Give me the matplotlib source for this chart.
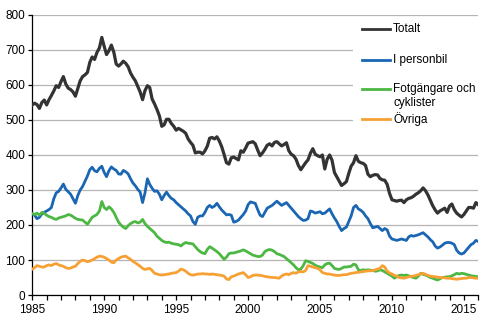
import numpy as np
import pandas as pd
import matplotlib
matplotlib.use("Agg")
import matplotlib.pyplot as plt
import matplotlib.dates as mdates
from matplotlib.lines import Line2D
from matplotlib.patches import Rectangle
from matplotlib.ticker import FuncFormatter, MultipleLocator

plt.rcParams['font.family'] = ['Liberation Sans', 'DejaVu Sans']

labels = ["Totalt", "I personbil", "Fotgängare och\ncyklister", "Övriga"]
colors = ["#333333", "#1a66b3", "#4cb843", "#f7a033"]

# bimonthly values, Jan 1985 .. Jan 2016
totalt = [
    543, 548, 544, 533, 550, 557, 543, 558, 570, 583,
    598, 593, 610, 624, 603, 591, 587, 580, 568, 590,
    612, 624, 629, 636, 665, 680, 673, 693, 706, 736,
    710, 687, 698, 714, 694, 660, 654, 660, 668, 662,
    652, 634, 622, 612, 596, 580, 558, 584, 598, 593,
    560, 546, 530, 512, 482, 486, 502, 502, 490, 482,
    471, 476, 472, 468, 462, 446, 436, 428, 406, 408,
    408, 403, 412, 425, 448, 450, 446, 452, 440, 424,
    402, 378, 374, 392, 394, 390, 386, 412, 408, 420,
    434, 436, 438, 432, 414, 398, 406, 416, 428, 432,
    426, 436, 438, 432, 426, 430, 435, 412, 402, 398,
    388, 370, 358, 368, 378, 386, 405, 418, 402, 398,
    395, 400, 360, 388, 400, 385, 350, 338, 326, 313,
    318, 324, 348, 368, 378, 398, 382, 378, 376, 370,
    345, 338, 342, 344, 343, 333, 329, 328, 316, 290,
    272, 270, 268, 270, 271, 264, 272, 276, 278, 282,
    288, 292, 298, 306, 298, 286, 270, 255, 243, 234,
    240, 244, 248, 236, 254, 260, 244, 234, 228, 223,
    230, 240, 250, 250, 248, 264, 258]

personbil = [
    233, 228, 218, 222, 232, 236, 240, 244, 250, 275,
    292, 296, 306, 317, 302, 295, 288, 275, 262, 284,
    300, 310, 325, 340, 358, 365, 355, 352, 362, 368,
    350, 338, 355, 366, 360, 356, 346, 345, 356, 352,
    346, 332, 320, 312, 302, 294, 264, 292, 332, 316,
    305, 296, 298, 288, 272, 284, 294, 284, 276, 272,
    264, 258, 252, 246, 240, 232, 226, 210, 202, 222,
    226, 226, 236, 250, 256, 250, 254, 262, 252, 243,
    236, 229, 230, 228, 208, 210, 214, 222, 230, 240,
    258, 266, 264, 262, 244, 228, 224, 236, 248, 252,
    256, 262, 268, 262, 256, 260, 264, 256, 248, 240,
    232, 224, 218, 213, 214, 218, 240, 238, 234, 236,
    238, 232, 234, 240, 246, 232, 220, 210, 196, 184,
    190, 194, 210, 226, 250, 256, 246, 242, 236, 226,
    218, 204, 192, 194, 196, 190, 184, 190, 186, 168,
    160, 158, 156, 158, 160, 158, 156, 166, 170, 168,
    170, 172, 175, 178, 172, 166, 158, 152, 140, 134,
    137, 142, 148, 150, 150, 148, 144, 128, 120, 117,
    120, 128, 136, 144, 148, 156, 153]

fotgangare = [
    232, 230, 234, 228, 236, 233, 228, 224, 222, 218,
    216, 220, 222, 224, 226, 230, 228, 224, 219, 216,
    215, 214, 208, 202, 212, 222, 226, 230, 240, 267,
    250, 244, 252, 246, 236, 222, 208, 200, 194, 190,
    198, 204, 208, 210, 206, 208, 216, 204, 196, 190,
    184, 178, 168, 162, 156, 152, 150, 151, 148, 146,
    145, 144, 140, 146, 150, 148, 147, 146, 138, 130,
    124, 120, 118, 130, 138, 134, 129, 124, 118, 110,
    102, 108, 118, 120, 120, 122, 124, 126, 129, 126,
    122, 118, 114, 112, 110, 110, 114, 124, 128, 130,
    128, 124, 118, 116, 113, 110, 104, 98, 92, 86,
    78, 72, 74, 84, 98, 96, 93, 90, 85, 82,
    80, 78, 86, 90, 91, 84, 76, 74, 73, 76,
    80, 80, 81, 82, 88, 86, 72, 70, 72, 71,
    72, 71, 70, 68, 69, 72, 70, 66, 62, 58,
    54, 48, 52, 56, 57, 56, 57, 55, 52, 50,
    48, 54, 62, 59, 57, 54, 50, 48, 45, 43,
    46, 50, 51, 52, 52, 55, 58, 62, 60, 62,
    61, 59, 57, 55, 54, 53, 52]

ovriga = [
    74, 78, 84, 82, 80, 80, 84, 86, 84, 88,
    90, 86, 84, 82, 78, 76, 77, 80, 82, 90,
    96, 100, 98, 95, 97, 100, 104, 108, 111, 110,
    108, 104, 100, 94, 92, 100, 104, 108, 110, 111,
    106, 102, 96, 92, 87, 82, 76, 73, 75, 76,
    70, 62, 60, 58, 57, 58, 59, 60, 62, 63,
    64, 68, 74, 72, 68, 62, 58, 57, 58, 60,
    60, 61, 60, 60, 59, 60, 59, 58, 57, 56,
    54, 46, 44, 52, 54, 57, 60, 62, 64, 58,
    50, 52, 56, 57, 57, 56, 55, 53, 52, 51,
    50, 50, 49, 48, 54, 58, 60, 58, 62, 64,
    62, 66, 67, 66, 70, 84, 82, 80, 78, 76,
    72, 64, 62, 60, 60, 58, 57, 56, 56, 57,
    58, 58, 60, 62, 63, 64, 65, 66, 67, 68,
    69, 69, 70, 72, 74, 76, 84, 80, 68, 63,
    60, 56, 54, 50, 49, 48, 50, 52, 53, 54,
    56, 58, 60, 62, 59, 56, 54, 53, 52, 51,
    50, 50, 49, 48, 48, 47, 46, 45, 46, 47,
    48, 48, 50, 50, 49, 48, 48]

series = [totalt, personbil, fotgangare, ovriga]
widths = [2.3, 2.0, 2.0, 2.0]

fig = plt.figure(figsize=(4.99, 3.28), dpi=100)
ax = fig.add_axes([0.0647, 0.1006, 0.8938, 0.8537])

for s, c, w in zip(series, colors, widths):
    dates = pd.date_range("1985-01-01", periods=len(s), freq="2MS")
    ax.plot(dates, s, color=c, lw=w, zorder=3, solid_joinstyle="round")

ax.set_xlim(pd.Timestamp("1985-01-01"), pd.Timestamp("2016-01-01"))
ax.set_ylim(0, 800)
ax.yaxis.set_major_locator(MultipleLocator(100))
ax.xaxis.set_major_locator(mdates.YearLocator(1))
ax.xaxis.set_major_formatter(FuncFormatter(
    lambda x, p: str(mdates.num2date(x).year) if mdates.num2date(x).year % 5 == 0 else ""))

ax.grid(axis="y", color="#b4b4b4", lw=0.9)
ax.set_axisbelow(True)
for sp in ["top", "right"]:
    ax.spines[sp].set_visible(False)
for sp in ["left", "bottom"]:
    ax.spines[sp].set_color("black")
    ax.spines[sp].set_linewidth(0.9)
ax.tick_params(axis="y", length=3, width=0.9, pad=2, labelsize=8.5, direction="out")
ax.tick_params(axis="x", length=3.6, width=0.9, pad=3, labelsize=8.5, direction="out")

# legend area (white box over gridlines)
ax.add_patch(Rectangle((0.719, 0.52), 0.3, 0.46, transform=ax.transAxes,
                       facecolor="white", edgecolor="none", zorder=1, clip_on=False))
leg_y = [0.950, 0.839, 0.736, 0.629]
text_y = [0.950, 0.839, 0.711, 0.629]
for lab, c, y, ty in zip(labels, colors, leg_y, text_y):
    ax.add_line(Line2D([0.739, 0.802], [y, y], transform=ax.transAxes,
                       color=c, lw=2.0, clip_on=False, zorder=4))
    ax.text(0.809, ty, lab, transform=ax.transAxes, fontsize=8.5, va="center", ha="left",
            linespacing=1.2, zorder=4)

fig.savefig("out.png", dpi=100)
